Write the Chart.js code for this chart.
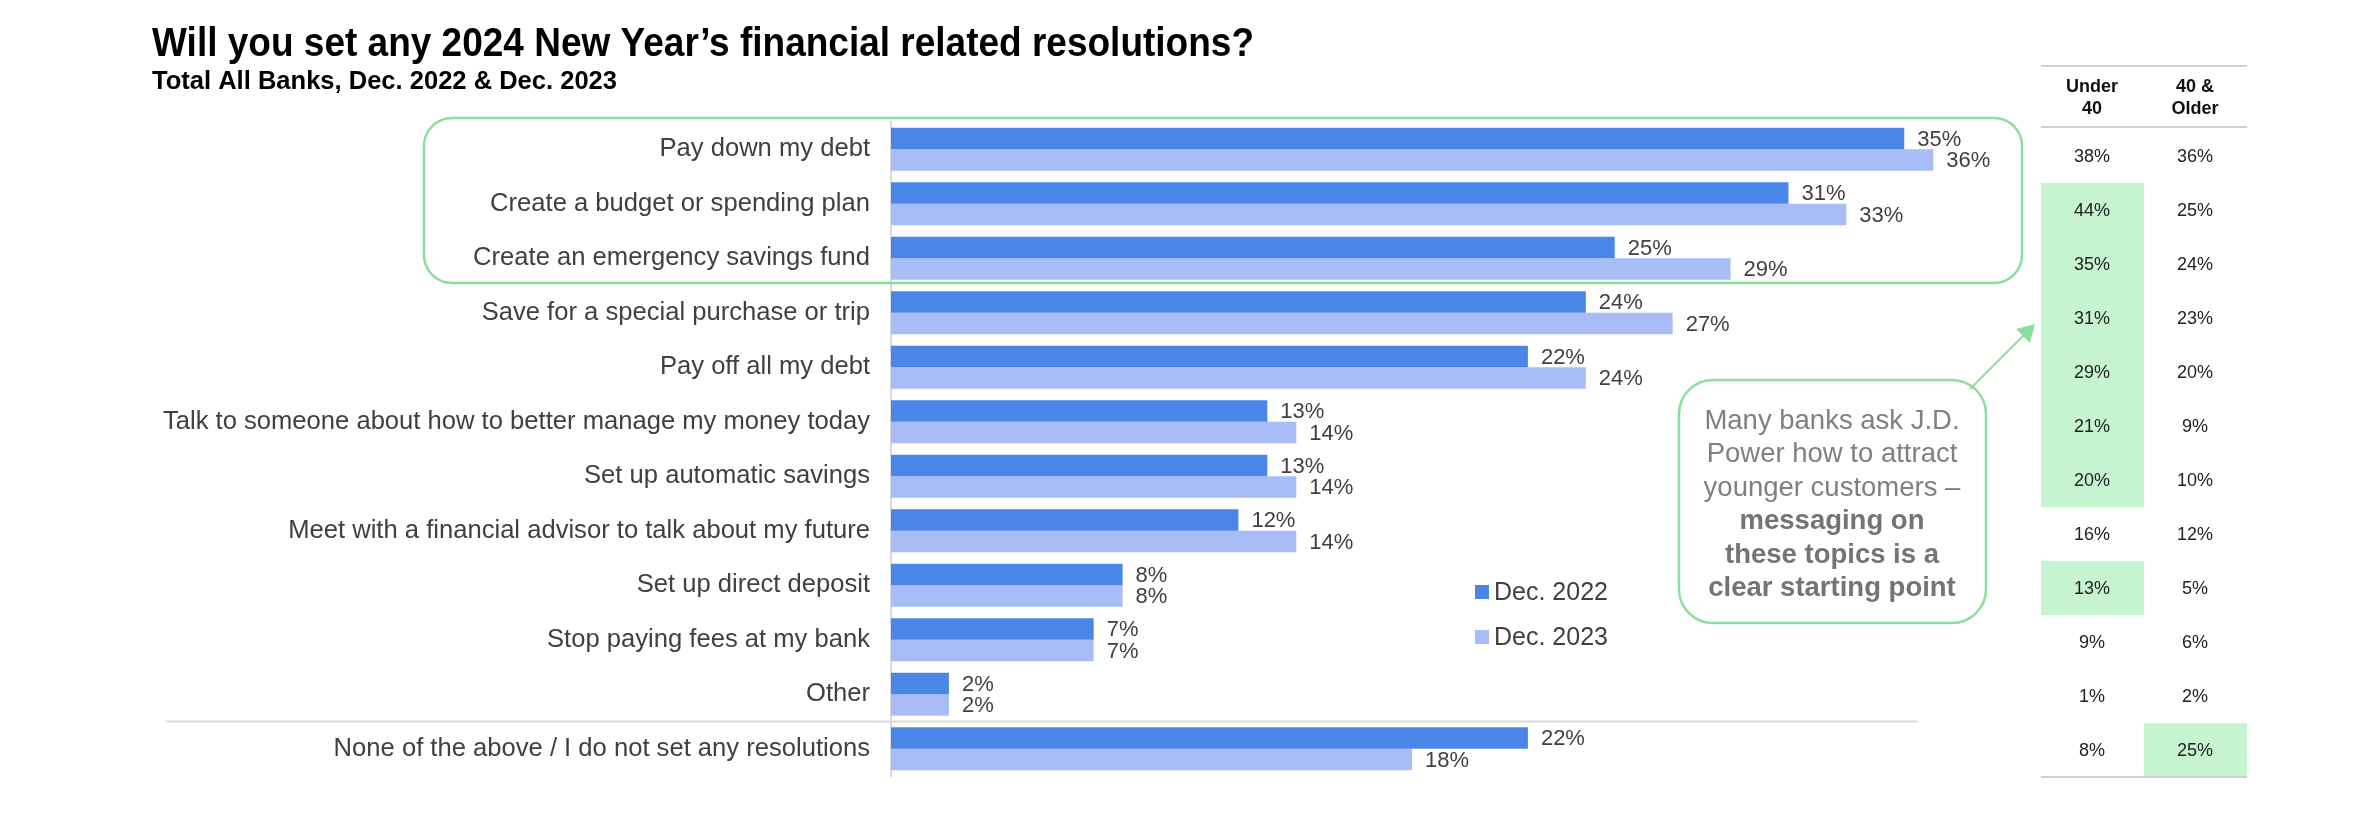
<!DOCTYPE html>
<html>
<head>
<meta charset="utf-8">
<script src="https://cdn.jsdelivr.net/npm/chart.js@4"></script>
<style>
  html, body { margin: 0; padding: 0; background: #ffffff; }
  #chart { display: block; }
</style>
</head>
<body>
<canvas id="chart" width="2364" height="836"></canvas>
<script>
// Chart data
const categories = [
    'Pay down my debt',
    'Create a budget or spending plan',
    'Create an emergency savings fund',
    'Save for a special purchase or trip',
    'Pay off all my debt',
    'Talk to someone about how to better manage my money today',
    'Set up automatic savings',
    'Meet with a financial advisor to talk about my future',
    'Set up direct deposit',
    'Stop paying fees at my bank',
    'Other',
    'None of the above / I do not set any resolutions'
];
const dec2022 = [35, 31, 25, 24, 22, 13, 13, 12, 8, 7, 2, 22];
const dec2023 = [36, 33, 29, 27, 24, 14, 14, 14, 8, 7, 2, 18];

// Side table by age group
const tableHeaders = [['Under', '40'], ['40 &', 'Older']];
const under40 = [38, 44, 35, 31, 29, 21, 20, 16, 13, 9, 1, 8];
const older40 = [36, 25, 24, 23, 20, 9, 10, 12, 5, 6, 2, 25];
const under40Highlight = [0, 1, 1, 1, 1, 1, 1, 0, 1, 0, 0, 0];
const older40Highlight = [0, 0, 0, 0, 0, 0, 0, 0, 0, 0, 0, 1];

const titleText = 'Will you set any 2024 New Year\u2019s financial related resolutions?';
const subtitleText = 'Total All Banks, Dec. 2022 & Dec. 2023';
const calloutLines = [
    { text: 'Many banks ask J.D.', bold: false },
    { text: 'Power how to attract', bold: false },
    { text: 'younger customers \u2013', bold: false },
    { text: 'messaging on', bold: true },
    { text: 'these topics is a', bold: true },
    { text: 'clear starting point', bold: true }
];

const DARK_BLUE = '#4A86E8';
const LIGHT_BLUE = '#A8BDF5';
const GREEN_LINE = '#8AE09A';
const GREEN_FILL = '#C6F3D0';
const TEXT_GRAY = '#404040';
const FONT = "'Liberation Sans', Arial, sans-serif";

// Draw text squeezed to a given width (title uses a narrow face)
function drawFitted(ctx, text, x, y, width) {
    const w = ctx.measureText(text).width;
    ctx.save();
    ctx.translate(x, y);
    ctx.scale(width / w, 1);
    ctx.fillText(text, 0, 0);
    ctx.restore();
}

const overlayPlugin = {
    id: 'overlay',
    afterDatasetsDraw(chart) {
        const ctx = chart.ctx;
        const yScale = chart.scales.y;

        // value labels next to each bar
        ctx.save();
        ctx.font = '22px ' + FONT;
        ctx.fillStyle = TEXT_GRAY;
        ctx.textAlign = 'left';
        ctx.textBaseline = 'middle';
        chart.data.datasets.forEach((ds, di) => {
            const meta = chart.getDatasetMeta(di);
            meta.data.forEach((bar, i) => {
                ctx.fillText(ds.data[i] + '%', bar.x + 13, bar.y + 1);
            });
        });
        ctx.restore();

        // separator above "None of the above"
        const n = categories.length;
        const sepY = (yScale.getPixelForValue(n - 2) + yScale.getPixelForValue(n - 1)) / 2;
        ctx.save();
        ctx.strokeStyle = '#d9d9d9';
        ctx.lineWidth = 2;
        ctx.beginPath();
        ctx.moveTo(166, sepY);
        ctx.lineTo(1918, sepY);
        ctx.stroke();
        ctx.restore();

        // legend
        ctx.save();
        ctx.font = '25px ' + FONT;
        ctx.textBaseline = 'middle';
        ctx.textAlign = 'left';
        chart.data.datasets.forEach((ds, di) => {
            const cy = 592 + di * 45;
            ctx.fillStyle = ds.backgroundColor;
            ctx.fillRect(1475, cy - 7, 14, 14);
            ctx.fillStyle = TEXT_GRAY;
            ctx.fillText(ds.label, 1494, cy + 1);
        });
        ctx.restore();

        // green rounded highlight around the top three rows
        ctx.save();
        ctx.strokeStyle = GREEN_LINE;
        ctx.lineWidth = 2.5;
        ctx.beginPath();
        ctx.roundRect(424, 118, 1598, 165, 28);
        ctx.stroke();

        // callout box
        ctx.beginPath();
        ctx.roundRect(1679, 380, 307, 243, 34);
        ctx.stroke();

        // arrow from callout to table
        ctx.lineWidth = 2;
        ctx.beginPath();
        ctx.moveTo(1970, 389);
        ctx.lineTo(2026, 333);
        ctx.stroke();
        ctx.fillStyle = GREEN_LINE;
        ctx.beginPath();
        ctx.moveTo(2035, 324);
        ctx.lineTo(2030, 343);
        ctx.lineTo(2016, 329);
        ctx.closePath();
        ctx.fill();
        ctx.restore();

        // callout text
        ctx.save();
        ctx.textAlign = 'center';
        ctx.textBaseline = 'middle';
        calloutLines.forEach((line, i) => {
            ctx.font = (line.bold ? 'bold ' : '') + '27.5px ' + FONT;
            ctx.fillStyle = line.bold ? '#747474' : '#808080';
            ctx.fillText(line.text, 1832, 421 + i * 33.5);
        });
        ctx.restore();

        // age table
        const colX = [2092, 2195];
        const colLeft = [2041, 2144];
        const colW = [103, 103];
        const rowY = i => 156 + i * 54;
        ctx.save();
        [under40Highlight, older40Highlight].forEach((hl, c) => {
            ctx.fillStyle = GREEN_FILL;
            hl.forEach((h, i) => {
                if (h) ctx.fillRect(colLeft[c], rowY(i) - 27, colW[c], 54);
            });
        });
        ctx.strokeStyle = '#cfcfcf';
        ctx.lineWidth = 2;
        [66, 127, 777].forEach(y => {
            ctx.beginPath();
            ctx.moveTo(2041, y);
            ctx.lineTo(2247, y);
            ctx.stroke();
        });
        ctx.fillStyle = '#111111';
        ctx.textAlign = 'center';
        ctx.textBaseline = 'middle';
        ctx.font = 'bold 18px ' + FONT;
        tableHeaders.forEach((h, c) => {
            ctx.fillText(h[0], colX[c], 87);
            ctx.fillText(h[1], colX[c], 109);
        });
        ctx.font = '18px ' + FONT;
        ctx.fillStyle = '#222222';
        [under40, older40].forEach((col, c) => {
            col.forEach((v, i) => ctx.fillText(v + '%', colX[c], rowY(i) + 1));
        });
        ctx.restore();

        // title + subtitle
        ctx.save();
        ctx.fillStyle = '#000000';
        ctx.textAlign = 'left';
        ctx.textBaseline = 'alphabetic';
        ctx.font = 'bold 40px ' + FONT;
        drawFitted(ctx, titleText, 152, 56, 1102);
        ctx.font = 'bold 26px ' + FONT;
        drawFitted(ctx, subtitleText, 152, 89, 465);
        ctx.restore();
    }
};

new Chart(document.getElementById('chart'), {
    type: 'bar',
    data: {
        labels: categories,
        datasets: [
            {
                label: 'Dec. 2022',
                data: dec2022,
                backgroundColor: DARK_BLUE,
                categoryPercentage: 0.79,
                barPercentage: 1.0
            },
            {
                label: 'Dec. 2023',
                data: dec2023,
                backgroundColor: LIGHT_BLUE,
                categoryPercentage: 0.79,
                barPercentage: 1.0
            }
        ]
    },
    plugins: [overlayPlugin],
    options: {
        indexAxis: 'y',
        responsive: false,
        animation: false,
        layout: {
            padding: { left: 0, top: 122, right: 315, bottom: 60 }
        },
        scales: {
            x: {
                display: false,
                min: 0,
                max: 40
            },
            y: {
                afterFit: (scale) => { scale.width = 891; },
                grid: { display: false, drawTicks: false },
                border: { display: true, color: '#d9d9d9', width: 2 },
                ticks: {
                    autoSkip: false,
                    padding: 21,
                    color: TEXT_GRAY,
                    font: { family: FONT, size: 25.6 }
                }
            }
        },
        plugins: {
            legend: { display: false },
            title: { display: false },
            tooltip: { enabled: false }
        }
    }
});
</script>
</body>
</html>
